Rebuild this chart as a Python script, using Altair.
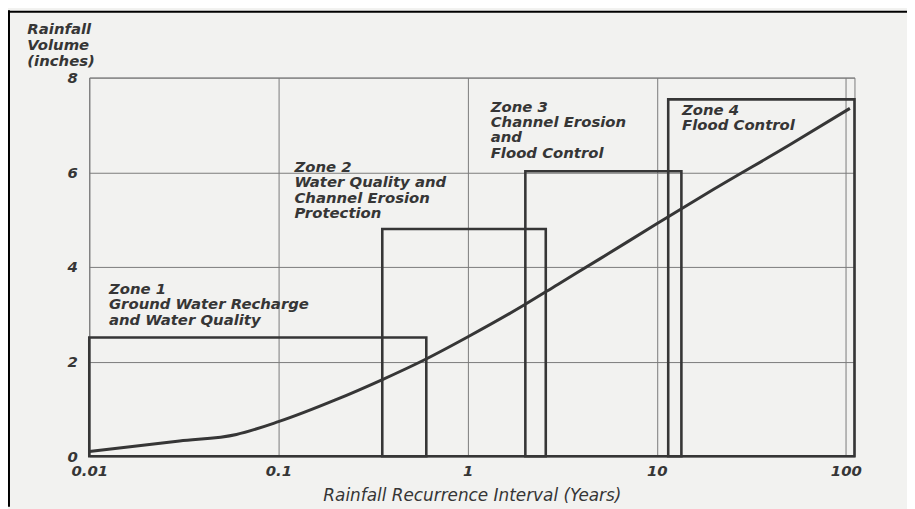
import altair as alt
import pandas as pd

# Rainfall curve (recurrence interval in years, volume in inches)
curve_x = [0.01, 0.03, 0.06, 0.1, 0.2, 0.35, 0.6, 1, 2, 3, 5, 10, 20, 50, 105]
curve_y = [0.10, 0.32, 0.46, 0.73, 1.19, 1.61, 2.05, 2.52, 3.20, 3.63, 4.17, 4.91, 5.64, 6.57, 7.35]

# Zone boxes
zone_names = ["Zone 1", "Zone 2", "Zone 3", "Zone 4"]
zone_x0 = [0.01, 0.354, 2.02, 11.5]
zone_x1 = [0.605, 2.59, 13.5, 111]
zone_top = [2.51, 4.80, 6.02, 7.54]

# Zone labels
label_text = [
    "Zone 1\nGround Water Recharge\nand Water Quality",
    "Zone 2\nWater Quality and\nChannel Erosion\nProtection",
    "Zone 3\nChannel Erosion\nand\nFlood Control",
    "Zone 4\nFlood Control",
]
label_x = [0.0127, 0.1215, 1.325, 13.6]
label_y = [3.68, 6.26, 7.53, 7.47]

x_ticks = [0.01, 0.1, 1, 10, 100]
y_ticks = [0, 2, 4, 6, 8]

FONT = "DejaVu Sans"
INK = "#363636"
GRID = "#7a7a7a"

curve_df = pd.DataFrame({"x": curve_x, "y": curve_y})
zones_df = pd.DataFrame({"zone": zone_names, "x0": zone_x0, "x1": zone_x1,
                         "y0": [0] * 4, "y1": zone_top})
labels_df = pd.DataFrame({"x": label_x, "y": label_y, "t": label_text})

xscale = alt.Scale(type="log", domain=[0.01, 111], nice=False)
yscale = alt.Scale(domain=[0, 8], nice=False, zero=False)

xaxis = alt.Axis(
    values=x_ticks, format="~g", title="Rainfall Recurrence Interval (Years)",
    grid=True, gridColor=GRID, gridWidth=1, domain=False, ticks=False,
    labelFlush=False,
    labelFont=FONT, labelFontSize=15, labelFontWeight="bold", labelFontStyle="italic",
    labelColor=INK, labelPadding=7, labelBaseline="top",
    titleFont=FONT, titleFontSize=17, titleFontStyle="italic", titleFontWeight="normal",
    titleColor=INK, titleY=45, titleBaseline="alphabetic",
)
yaxis = alt.Axis(
    values=y_ticks, title=["Rainfall", "Volume", "(inches)"],
    grid=True, gridColor=GRID, gridWidth=1, domain=False, ticks=False,
    labelFont=FONT, labelFontSize=15, labelFontWeight="bold", labelFontStyle="italic",
    labelColor=INK, labelPadding=12, labelBaseline="middle",
    titleFont=FONT, titleFontSize=15, titleFontStyle="italic", titleFontWeight="bold",
    titleColor=INK, titleAngle=0, titleAlign="left", titleBaseline="top",
    titleX=-63, titleY=-56, titleLineHeight=16,
)

boxes = alt.Chart(zones_df).mark_rect(fillOpacity=0, stroke=INK, strokeWidth=2.6).encode(
    x=alt.X("x0:Q", scale=xscale, axis=xaxis),
    x2="x1:Q",
    y=alt.Y("y0:Q", scale=yscale, axis=yaxis),
    y2="y1:Q",
)

curve = alt.Chart(curve_df).mark_line(color=INK, strokeWidth=3, interpolate="monotone").encode(
    x=alt.X("x:Q", scale=xscale),
    y=alt.Y("y:Q", scale=yscale),
)

labels = alt.Chart(labels_df).mark_text(
    align="left", baseline="top", lineBreak="\n", lineHeight=15.5,
    font=FONT, fontSize=15, fontWeight="bold", fontStyle="italic", color=INK,
).encode(
    x=alt.X("x:Q", scale=xscale),
    y=alt.Y("y:Q", scale=yscale),
    text="t:N",
)

frame_df = pd.DataFrame({"a": [0]})
frame_left = alt.Chart(frame_df).mark_rule(color="#000000", strokeWidth=2).encode(
    x=alt.value(-81), y=alt.value(-68), y2=alt.value(433))
frame_top = alt.Chart(frame_df).mark_rule(color="#000000", strokeWidth=2).encode(
    x=alt.value(-82), x2=alt.value(825), y=alt.value(-66.5))

chart = alt.layer(boxes, curve, labels, frame_left, frame_top).properties(
    width=772, height=382,
    padding={"left": 82, "top": 68, "right": 53, "bottom": 51},
    autosize=alt.AutoSizeParams(type="none"),
    background="#f2f2f0",
).configure_view(stroke=GRID, strokeWidth=1)

chart.save("out.html", embed_options={"renderer": "svg", "actions": False})
